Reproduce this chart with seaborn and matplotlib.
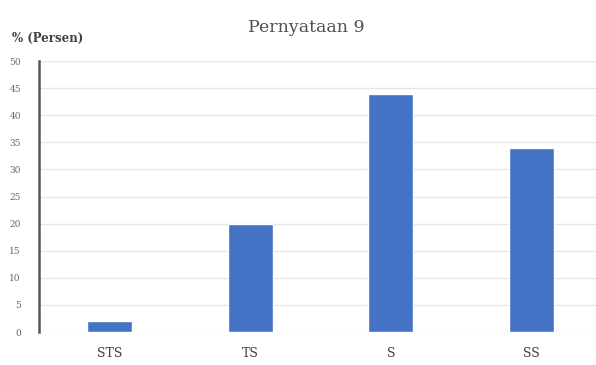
import matplotlib
matplotlib.use("Agg")
import matplotlib.pyplot as plt
import seaborn as sns
import pandas as pd

categories = ["STS", "TS", "S", "SS"]
values = [2, 20, 44, 34]
y_ticks = [0, 5, 10, 15, 20, 25, 30, 35, 40, 45, 50]

sns.set_theme(style="white")
plt.rcParams["font.family"] = ["DejaVu Serif"]

df = pd.DataFrame({"kategori": categories, "persen": values})

fig = plt.figure(figsize=(5.96, 3.65), dpi=100)
ax = fig.add_axes([39 / 596, 33 / 365, 563 / 596, 271 / 365])

sns.barplot(data=df, x="kategori", y="persen", color="#4472C4", width=0.32,
            saturation=1, ax=ax, zorder=3)

ax.set_ylim(0, 50)
ax.set_yticks(y_ticks)
ax.set_yticklabels([str(t) for t in y_ticks], fontsize=6.5, color="#666666")
ax.tick_params(axis="x", labelsize=9, colors="#404040", length=0, pad=11)
ax.tick_params(axis="y", length=0, pad=13)
ax.set_xlabel("")
ax.set_ylabel("")
ax.yaxis.grid(True, color="#E6E6E6", linewidth=1, zorder=0)
ax.xaxis.grid(False)

for side in ["top", "right", "bottom"]:
    ax.spines[side].set_visible(False)
ax.spines["left"].set_color("#555555")
ax.spines["left"].set_linewidth(1.8)

fig.text(306 / 596, 1 - 27 / 365, "Pernyataan 9", ha="center", va="center",
         fontsize=12.5, color="#505050")
fig.text(12 / 596, 1 - 38 / 365, "% (Persen)", ha="left", va="center",
         fontsize=8.5, fontweight="bold", color="#404040")

fig.savefig("out.png", dpi=100, facecolor="white")
